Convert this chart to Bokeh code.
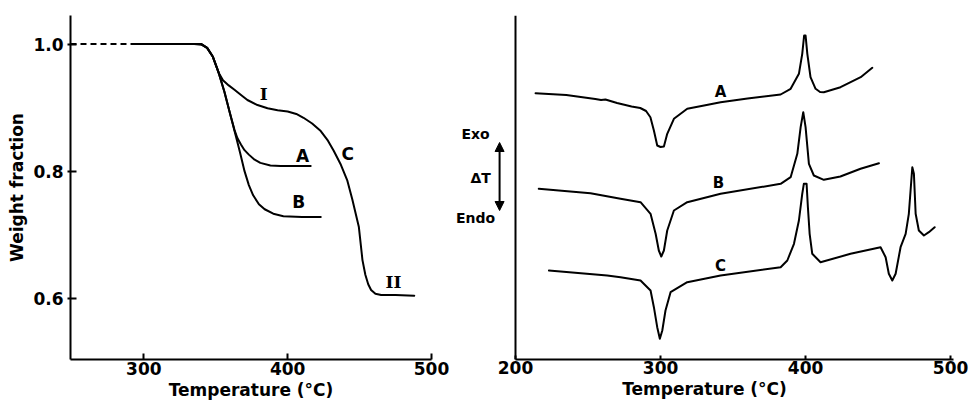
from bokeh.plotting import figure
from bokeh.layouts import row
from bokeh.models import Range1d, FixedTicker, PrintfTickFormatter, Label, Arrow, NormalHead
from bokeh.embed import file_html
from bokeh.resources import INLINE

# ---------------- TGA data (left) ----------------
tga_dash_t = [249, 294]
tga_dash_w = [1.0, 1.0]

tga_c_t = [294, 335, 340, 344, 348, 352, 355, 359, 363, 368, 372, 379, 386, 393, 400, 406, 411,
           417, 423, 428, 432, 437, 441.5, 445, 449.5, 452, 454, 456, 458, 461, 465, 475, 488]
tga_c_w = [1.0, 1.0, 0.999, 0.994, 0.98, 0.955, 0.943, 0.935, 0.928, 0.919, 0.912, 0.904, 0.899,
           0.896, 0.894, 0.890, 0.884, 0.875, 0.863, 0.848, 0.832, 0.81, 0.785, 0.755, 0.712,
           0.66, 0.637, 0.622, 0.613, 0.607, 0.605, 0.605, 0.604]

tga_a_t = [294, 340, 344, 348, 352, 356, 360, 363, 365, 367.5, 370, 373, 377, 381, 388, 395, 405, 416]
tga_a_w = [1.0, 1.0, 0.994, 0.98, 0.955, 0.925, 0.89, 0.865, 0.852, 0.842, 0.833, 0.826, 0.818,
           0.813, 0.809, 0.808, 0.808, 0.808]

tga_b_t = [294, 340, 344, 348, 352, 356, 360, 364, 367, 370, 373, 376, 380, 384, 390, 397, 410, 423]
tga_b_w = [1.0, 1.0, 0.994, 0.98, 0.955, 0.925, 0.89, 0.855, 0.828, 0.800, 0.778, 0.762, 0.748,
           0.740, 0.733, 0.729, 0.728, 0.728]

tga_xticks = [300, 400, 500]
tga_yticks = [0.6, 0.8, 1.0]

# ---------------- DTA data (right), arbitrary units ----------------
dta_a_t = [213.8, 235, 255, 259, 262, 270, 280, 286, 290, 293, 295.4, 297.7, 300, 302.3, 304.6,
           309.2, 318.4, 330, 341.4, 360, 382.8, 389.7, 395.4, 397.7, 399, 400, 401.2, 403.4,
           406.9, 410, 412.6, 424.1, 438, 446]
dta_a_v = [26.63, 26.45, 26.05, 25.95, 26.0, 25.65, 25.3, 25.15, 24.85, 24.23, 22.9, 21.4, 21.25,
           21.3, 22.57, 24.07, 25.07, 25.4, 25.73, 26.1, 26.5, 27.07, 28.57, 30.57, 32.4, 32.4,
           30.57, 28.23, 27.07, 26.75, 26.73, 27.23, 28.23, 29.17]

dta_b_t = [216, 251.7, 272.4, 286.2, 293.1, 296.6, 298.8, 300.5, 302.3, 304.6, 309.2, 318.4, 341.4,
           382.8, 389.7, 394.3, 396.6, 398.4, 400, 402.3, 405.7, 412.6, 424, 437.9, 450.6]
dta_b_v = [17.07, 16.63, 16.07, 15.73, 14.57, 12.57, 10.9, 10.3, 10.9, 12.9, 14.9, 15.73, 16.57,
           17.57, 18.23, 20.57, 23.23, 24.73, 23.23, 19.57, 18.4, 17.97, 18.3, 19.07, 19.63]

dta_c_t = [223, 263.2, 272.4, 286.2, 293.1, 295.4, 297.7, 299.5, 301.2, 303.4, 306.9, 318.4, 341.4,
           382.8, 387.4, 392, 395.4, 397.7, 398.8, 400.7, 401.6, 402.8, 404.6, 410.3, 431, 451.7,
           455.2, 457.4, 459.8, 462.1, 465.5, 469, 471.2, 472.4, 473.6, 474.7, 475.9, 478.1,
           481.6, 485, 489]
dta_c_v = [8.9, 8.4, 8.23, 7.9, 6.9, 5.23, 3.23, 2.07, 2.9, 4.9, 6.73, 7.73, 8.4, 9.23, 9.9, 11.57,
           13.9, 16.57, 17.57, 17.57, 15.23, 12.57, 10.57, 9.73, 10.57, 11.23, 10.23, 8.57, 7.9,
           8.57, 11.23, 12.57, 14.57, 16.9, 19.23, 18.57, 14.57, 12.9, 12.4, 12.73, 13.23]

dta_xticks = [200, 300, 400, 500]

FONT = "DejaVu Sans"
WEIGHT = "bold"


def style(p):
    p.outline_line_color = None
    p.xgrid.visible = False
    p.ygrid.visible = False
    p.background_fill_color = "white"
    p.border_fill_color = "white"
    for ax in (p.xaxis[0], p.yaxis[0]):
        ax.axis_line_width = 2
        ax.axis_line_color = "black"
        ax.major_tick_line_width = 2
        ax.major_tick_line_color = "black"
        ax.minor_tick_line_color = None
        ax.major_label_text_font = FONT
        ax.major_label_text_font_size = "17px"
        ax.major_label_text_font_style = WEIGHT
        ax.major_label_text_color = "black"
        ax.axis_label_text_font = FONT
        ax.axis_label_text_font_size = "17px"
        ax.axis_label_text_font_style = WEIGHT
        ax.axis_label_text_color = "black"


# ---------------- Left figure ----------------
p1 = figure(width=452, height=407, output_backend="svg", toolbar_location=None,
            x_range=Range1d(249, 500), y_range=Range1d(0.5035, 1.045),
            min_border_left=70, min_border_right=21, min_border_top=13, min_border_bottom=46)
style(p1)
p1.xaxis.ticker = FixedTicker(ticks=tga_xticks)
p1.yaxis.ticker = FixedTicker(ticks=tga_yticks)
p1.yaxis.formatter = PrintfTickFormatter(format="%.1f")
p1.xaxis.major_tick_in = 6
p1.xaxis.major_tick_out = 0
p1.yaxis.major_tick_in = 6
p1.yaxis.major_tick_out = 3
p1.xaxis.major_label_standoff = 2
p1.yaxis.major_label_standoff = 4
p1.xaxis.axis_label = "Temperature (°C)"
p1.yaxis.axis_label = "Weight fraction"
p1.xaxis.axis_label_standoff = 2
p1.yaxis.axis_label_standoff = 3

p1.line(tga_dash_t, tga_dash_w, line_color="black", line_width=2, line_dash="6 4")
for xs, ys in ((tga_c_t, tga_c_w), (tga_a_t, tga_a_w), (tga_b_t, tga_b_w)):
    p1.line(xs, ys, line_color="black", line_width=2, line_join="round", line_cap="round")

for txt, x, y, font in (("I", 383.3, 0.922, "DejaVu Serif"), ("A", 410.4, 0.824, FONT),
                        ("C", 441.7, 0.827, FONT), ("B", 407.6, 0.751, FONT),
                        ("II", 473.6, 0.626, "DejaVu Serif")):
    p1.add_layout(Label(x=x, y=y, text=txt, text_align="center", text_baseline="middle",
                        text_font=font, text_font_size="17px", text_color="black",
                        text_font_style="bold"))

# ---------------- Right figure ----------------
# frame starts left of the 200 °C axis so that the Exo / Endo marker fits inside it
p2 = figure(width=526, height=407, output_backend="svg", toolbar_location=None,
            x_range=Range1d(158.6, 502), y_range=Range1d(0, 34.4),
            min_border_left=3, min_border_right=25, min_border_top=15, min_border_bottom=48)
style(p2)
p2.xaxis.ticker = FixedTicker(ticks=dta_xticks)
p2.xaxis.bounds = (200, 502)
p2.yaxis.ticker = FixedTicker(ticks=[])
p2.yaxis.major_label_text_font_size = "0px"
p2.yaxis.major_tick_in = 0
p2.yaxis.major_tick_out = 0
p2.yaxis.fixed_location = 200
p2.xaxis.major_tick_in = 4
p2.xaxis.major_tick_out = 0
p2.xaxis.major_label_standoff = 1
p2.xaxis.axis_label = "Temperature (°C)"
p2.xaxis.axis_label_standoff = 2

for xs, ys in ((dta_a_t, dta_a_v), (dta_b_t, dta_b_v), (dta_c_t, dta_c_v)):
    p2.line(xs, ys, line_color="black", line_width=2, line_join="round", line_cap="round")

for txt, x, y in (("A", 341.4, 26.8), ("B", 340.0, 17.7), ("C", 341.4, 9.4)):
    p2.add_layout(Label(x=x, y=y, text=txt, text_align="center", text_baseline="middle",
                        text_font=FONT, text_font_size="15px", text_color="black",
                        text_font_style=WEIGHT))

for txt, x, y in (("Exo", 172.4, 22.6), ("ΔT", 175.9, 18.2), ("Endo", 172.4, 14.2)):
    p2.add_layout(Label(x=x, y=y, text=txt, text_align="center", text_baseline="middle",
                        text_font=FONT, text_font_size="14px", text_color="black",
                        text_font_style=WEIGHT))

p2.add_layout(Arrow(x_start=189, y_start=14.9, x_end=189, y_end=21.7,
                    start=NormalHead(size=9, fill_color="black", line_color="black"),
                    end=NormalHead(size=9, fill_color="black", line_color="black"),
                    line_width=2, line_color="black"))

layout = row(p1, p2)
open("out.html", "w").write(file_html(layout, INLINE))
